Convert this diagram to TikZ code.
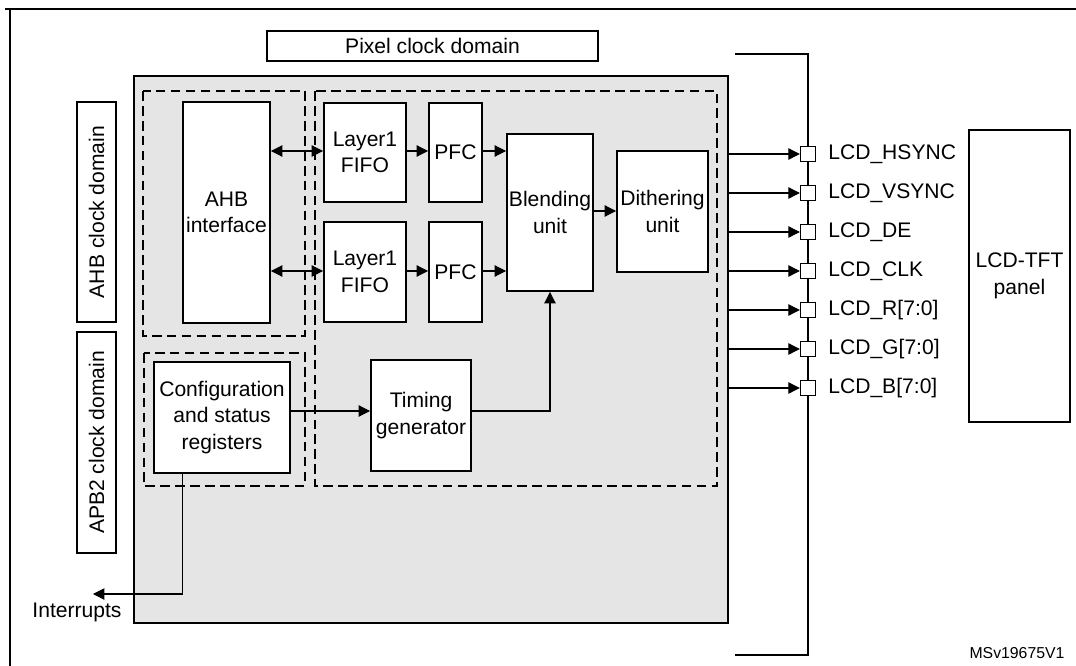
\documentclass[tikz,border=0pt]{standalone}
\usepackage{fontspec}
\setmainfont{Liberation Sans}
\usetikzlibrary{arrows.meta,fit}

\newcommand\pxu{0.02cm}

\tikzset{
  blk/.style={draw, line width=1.1pt, fill=white, inner sep=0pt, align=center},
  dombox/.style={draw, line width=1.1pt, inner sep=0pt},
  zone/.style={dash pattern=on 5.5pt off 3pt, line width=0.9pt},
  sig/.style={line width=0.6pt, -{Triangle[length=6.5pt,width=6.5pt]}},
  bisig/.style={line width=0.6pt, {Triangle[length=6.5pt,width=6.5pt]}-{Triangle[length=6.5pt,width=6.5pt]}},
  pin/.style={draw, fill=white, line width=0.8pt, minimum size=0.3cm, inner sep=0pt},
  size/.style 2 args={minimum width=#1*\pxu, minimum height=#2*\pxu},
}

\begin{document}
\begin{tikzpicture}[x=0.02cm, y=-0.02cm, font=\fontsize{12}{15}\selectfont]

  \useasboundingbox (0,0) rectangle (1076,666);

  % frame
  \draw[line width=1.1pt] (5,9) -- (1076,9);
  \draw[line width=1.1pt] (10,9) -- (10,666);

  % clock domains
  \node[dombox, size={331}{30}] (pixdom) at (432.5,46) {Pixel clock domain};
  \node[dombox, size={220}{39}, rotate=90] (ahbdom) at (96.5,212) {AHB clock domain};
  \node[dombox, size={221}{39}, rotate=90] (apbdom) at (96.5,442.5) {APB2 clock domain};

  % LTDC core
  \node[draw, line width=1.1pt, fill=black!10, inner sep=0pt,
    fit={(134,76) (728,623)}] (core) {};
  \draw[zone] (143,91) rectangle (305,336);
  \draw[zone] (144,353) rectangle (305,486);
  \draw[zone] (315,91) rectangle (717,486);

  % blocks
  \node[blk, size={87}{221}] (ahb) at (226.5,212.5) {AHB\\interface};
  \node[blk, size={82}{99}] (fifoA) at (365,152.5) {Layer1\\FIFO};
  \node[blk, size={82}{100}] (fifoB) at (365,272) {Layer1\\FIFO};
  \node[blk, size={53}{99}] (pfcA) at (455.5,152.5) {PFC};
  \node[blk, size={53}{100}] (pfcB) at (455.5,272) {PFC};
  \node[blk, size={86}{157}] (blend) at (550,212.5) {Blending\\unit};
  \node[blk, size={91}{121}] (dither) at (662.5,211.5) {Dithering\\unit};
  \node[blk, size={136}{111}] (config) at (222,417.5) {Configuration\\and status\\registers};
  \node[blk, size={100}{111}] (timing) at (421,415.5) {Timing\\generator};

  % data path
  \draw[bisig] (ahb.east |- 0,151) -- (fifoA.west |- 0,151);
  \draw[bisig] (ahb.east |- 0,271) -- (fifoB.west |- 0,271);
  \draw[sig] (fifoA.east |- 0,151) -- (pfcA.west |- 0,151);
  \draw[sig] (fifoB.east |- 0,271) -- (pfcB.west |- 0,271);
  \draw[sig] (pfcA.east |- 0,151) -- (blend.west |- 0,151);
  \draw[sig] (pfcB.east |- 0,271) -- (blend.west |- 0,271);
  \draw[sig] (blend.east |- 0,211) -- (dither.west |- 0,211);
  \draw[sig] (config.east |- 0,411) -- (timing.west |- 0,411);
  \draw[sig] (timing.east |- 0,411) -| (blend.south);

  % interrupts
  \coordinate (irq) at (93,594);
  \draw[sig] (config.south -| ahb.west) |- (irq);
  \node (irqtext) at (77,612) {Interrupts};

  % output bus
  \draw[line width=1.1pt] (735,54) -- (808,54) -- (808,655) -- (735,655);
  \foreach \i/\y/\name in {1/154/LCD\_HSYNC, 2/193/LCD\_VSYNC, 3/232/LCD\_DE,
      4/271/LCD\_CLK, 5/310/LCD\_R[7:0], 6/349/LCD\_G[7:0], 7/388/LCD\_B[7:0]} {
    \node[pin] (p\i) at (808,\y) {};
    \draw[sig] (core.east |- p\i) -- (p\i.west);
    \node[anchor=west, inner sep=0pt] (t\i) at (828,\y) {\name};
  }

  % panel
  \node[blk, size={101}{292}] (panel) at (1019.5,276) {LCD-TFT\\panel};

  \node[font=\fontsize{9}{11}\selectfont] (ref) at (1017,653) {MSv19675V1};

\end{tikzpicture}
\end{document}
